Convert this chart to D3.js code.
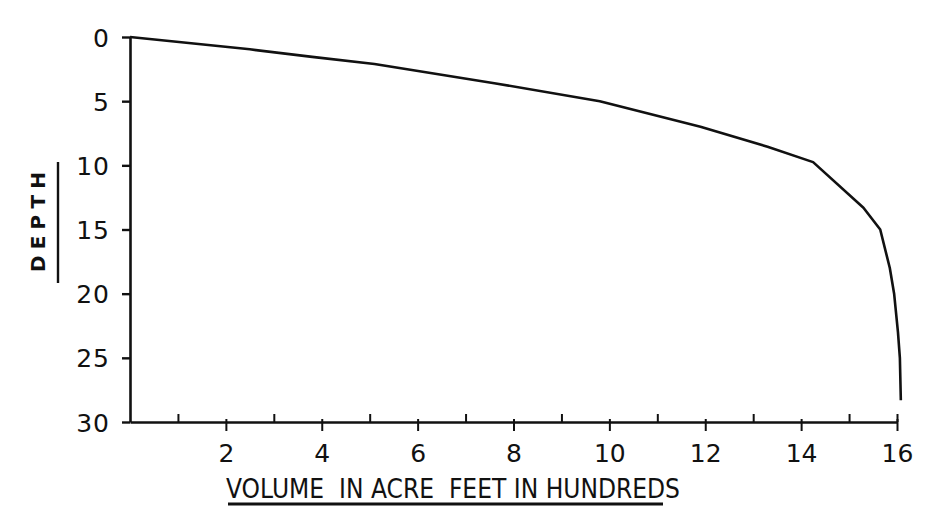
<!DOCTYPE html>
<html>
<head>
<meta charset="utf-8">
<script src="https://cdn.jsdelivr.net/npm/d3@7"></script>
<style>
  html, body { margin: 0; padding: 0; background: #fff; }
  svg { display: block; }
  .axis path, .axis line { stroke: #111; }
  .axis text { fill: #111; font-family: "DejaVu Sans", sans-serif; }
</style>
</head>
<body>
<svg id="chart" width="937" height="515"></svg>
<script>
// ---- data ----
const volume = [0, 2.5,  3.8,  5.1, 7.6, 9.8, 11.9, 13.3, 14.25, 15.3, 15.65, 15.85, 15.94, 16.02, 16.06, 16.08];
const depth  = [0, 0.96, 1.55, 2.1, 3.6, 5.0, 7.0,  8.55, 9.75,  13.3, 15,    18,    20,    23,    25,    28.3];
const xMajorTicks = [2, 4, 6, 8, 10, 12, 14, 16];
const xMinorTicks = [1, 3, 5, 7, 9, 11, 13, 15];
const yTicks = [0, 5, 10, 15, 20, 25, 30];
const xTitle = "VOLUME  IN ACRE  FEET IN HUNDREDS";
const yTitle = "DEPTH";

const svg = d3.select("#chart");
const x = d3.scaleLinear().domain([0, 16]).range([130, 897]);
const y = d3.scaleLinear().domain([0, 30]).range([37, 422]);

// y axis
const gy = svg.append("g").attr("class", "axis")
  .attr("transform", `translate(${x(0)},0)`)
  .call(d3.axisLeft(y).tickValues(yTicks).tickSize(8).tickSizeOuter(0).tickPadding(12).tickFormat(d3.format("d")));
gy.select(".domain").attr("stroke-width", 2.6);
gy.selectAll(".tick line").attr("stroke-width", 2.4);
gy.selectAll("text").attr("font-size", 25).attr("dy", "0.36em").attr("letter-spacing", 1);

// x axis major ticks (below)
const gx = svg.append("g").attr("class", "axis")
  .attr("transform", `translate(0,${y(30)})`)
  .call(d3.axisBottom(x).tickValues(xMajorTicks).tickSize(9).tickSizeOuter(0).tickPadding(13).tickFormat(d3.format("d")));
gx.select(".domain").attr("stroke-width", 2.6);
gx.selectAll(".tick line").attr("stroke-width", 2).attr("y1", -3);
gx.selectAll("text").attr("font-size", 25);

// x axis minor ticks (above)
const gx2 = svg.append("g").attr("class", "axis")
  .attr("transform", `translate(0,${y(30)})`)
  .call(d3.axisTop(x).tickValues(xMinorTicks.concat([16])).tickSize(8).tickSizeOuter(0).tickFormat(""));
gx2.select(".domain").remove();
gx2.selectAll(".tick line").attr("stroke-width", 2);

// curve
const pts = volume.map((v, i) => [v, depth[i]]);
svg.append("path")
  .datum(pts)
  .attr("fill", "none")
  .attr("stroke", "#111")
  .attr("stroke-width", 2.6)
  .attr("stroke-linejoin", "round")
  .attr("d", d3.line().x(d => x(d[0])).y(d => y(d[1])));

// x title
svg.append("text")
  .attr("x", 226).attr("y", 498)
  .attr("font-family", "DejaVu Sans, sans-serif")
  .attr("font-size", 27)
  .attr("textLength", 454)
  .attr("lengthAdjust", "spacingAndGlyphs")
  .attr("fill", "#111")
  .attr("xml:space", "preserve")
  .style("white-space", "pre")
  .text(xTitle);
svg.append("line")
  .attr("x1", 228).attr("x2", 663)
  .attr("y1", 504).attr("y2", 504)
  .attr("stroke", "#111").attr("stroke-width", 3);

// y title
svg.append("text")
  .attr("transform", "translate(45,222) rotate(-90)")
  .attr("text-anchor", "middle")
  .attr("font-family", "DejaVu Sans, sans-serif")
  .attr("font-size", 20)
  .attr("font-weight", "bold")
  .attr("textLength", 100)
  .attr("lengthAdjust", "spacing")
  .attr("fill", "#111")
  .text(yTitle);
svg.append("line")
  .attr("x1", 58).attr("x2", 58)
  .attr("y1", 162).attr("y2", 283)
  .attr("stroke", "#111").attr("stroke-width", 2.4);
</script>
</body>
</html>
